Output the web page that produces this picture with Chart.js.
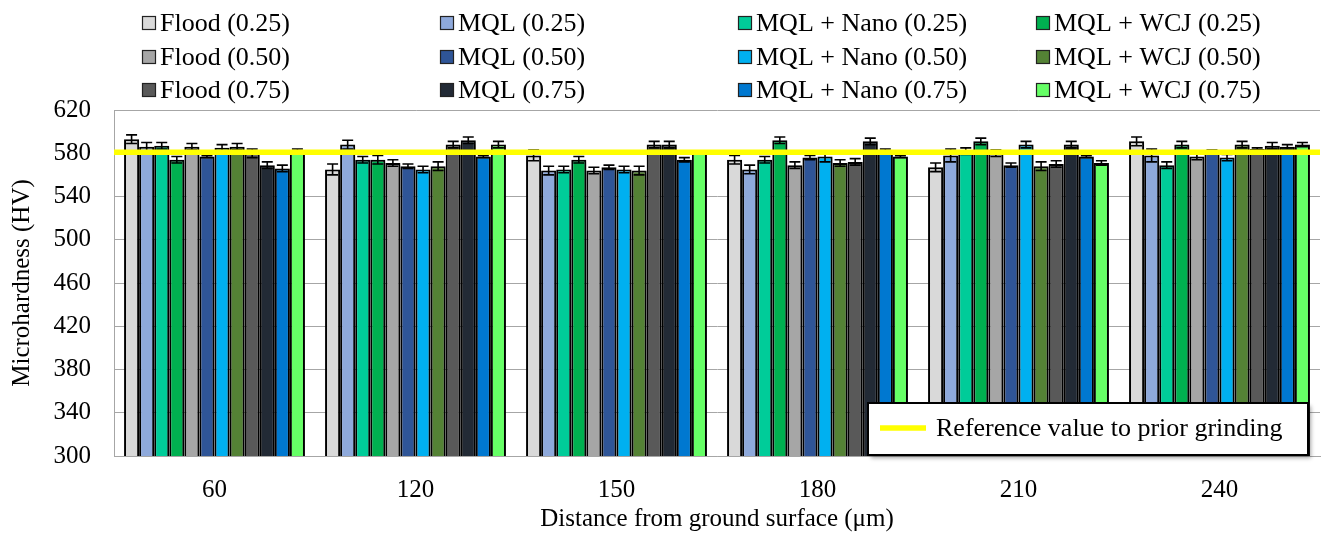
<!DOCTYPE html>
<html><head><meta charset="utf-8">
<script src="https://cdn.jsdelivr.net/npm/chart.js@4.4.1/dist/chart.umd.min.js"></script>
<style>html,body{margin:0;padding:0;background:#fff;}#wrap{width:1322px;height:534px;}</style>
</head><body><div id="wrap"><canvas id="c" width="1322" height="534"></canvas></div>
<script>
// ---- DATA ----
const categories = ['60', '120', '150', '180', '210', '240'];
const seriesNames = ['Flood (0.25)', 'MQL (0.25)', 'MQL + Nano (0.25)', 'MQL + WCJ (0.25)',
                     'Flood (0.50)', 'MQL (0.50)', 'MQL + Nano (0.50)', 'MQL + WCJ (0.50)',
                     'Flood (0.75)', 'MQL (0.75)', 'MQL + Nano (0.75)', 'MQL + WCJ (0.75)'];
const seriesColors = ['#D9D9D9', '#8EA9DB', '#00CC99', '#00B050',
                      '#A6A6A6', '#2F5597', '#00B0F0', '#548235',
                      '#595959', '#222A35', '#0078D0', '#66FF66'];
const flood025 = [593, 565, 578, 574, 567, 591];
const mql025   = [586, 588, 564, 565, 578, 578];
const nano025  = [587, 574, 565, 574, 582, 569];
const wcj025   = [574, 574, 574, 592, 591, 588];
const flood050 = [586, 571, 564, 569, 580, 577];
const mql050   = [577, 568, 567, 576, 569, 582];
const nano050  = [585, 565, 565, 577, 588, 576];
const wcj050   = [586, 568, 564, 571, 568, 588];
const flood075 = [580, 588, 588, 572, 570, 584];
const mql075   = [569, 592, 588, 591, 588, 587];
const nano075  = [566, 577, 574, 583, 577, 586];
const wcj075   = [582, 588, 581, 577, 571, 588];
const errFlood025 = [4, 5, 5, 4, 4, 4];
const errMql025   = [4, 4, 4, 4, 6, 6];
const errNano025  = [3, 3, 3, 3, 3, 3];
const errWcj025   = [3, 4, 3, 3, 3, 3];
const errFlood050 = [3, 3, 3, 3, 3, 3];
const errMql050   = [1, 2, 2, 2, 2, 1];
const errNano050  = [3, 3, 3, 5, 3, 3];
const errWcj050   = [3, 4, 4, 3, 4, 3];
const errFlood075 = [4, 3, 3, 3, 3, 1];
const errMql075   = [3, 3, 3, 3, 3, 3];
const errNano075  = [3, 1, 2, 1, 1, 2];
const errWcj075   = [2, 3, 1, 1, 2, 2];
const referenceValue = 581;
const referenceLabel = 'Reference value to prior grinding';
const yTicks = [300, 340, 380, 420, 460, 500, 540, 580, 620];

const seriesValues = [flood025, mql025, nano025, wcj025, flood050, mql050, nano050, wcj050, flood075, mql075, nano075, wcj075];
const seriesErrors = [errFlood025, errMql025, errNano025, errWcj025, errFlood050, errMql050, errNano050, errWcj050, errFlood075, errMql075, errNano075, errWcj075];

const FAMILY = '"Liberation Serif", "Times New Roman", serif';

const overlay = {
  id: 'overlay',
  beforeDatasetsDraw(chart) {
    const ctx = chart.ctx;
    ctx.save();
    ctx.shadowColor = 'rgba(0,0,0,0.35)';
    ctx.shadowBlur = 4;
    ctx.shadowOffsetX = 3;
    ctx.shadowOffsetY = 2;
  },
  afterDatasetsDraw(chart) {
    const ctx = chart.ctx;
    ctx.restore();
    const ys = chart.scales.y;
    const area = chart.chartArea;
    // error bars
    ctx.save();
    ctx.strokeStyle = '#000';
    ctx.lineWidth = 1.6;
    chart.data.datasets.forEach((ds, i) => {
      const meta = chart.getDatasetMeta(i);
      meta.data.forEach((el, j) => {
        const v = ds.data[j], e = seriesErrors[i][j];
        const yt = ys.getPixelForValue(v + e), yb = ys.getPixelForValue(v - e);
        const x = el.x, hw = 5.5;
        ctx.beginPath();
        ctx.moveTo(x, yt); ctx.lineTo(x, yb);
        ctx.moveTo(x - hw, yt); ctx.lineTo(x + hw, yt);
        ctx.moveTo(x - hw, yb); ctx.lineTo(x + hw, yb);
        ctx.stroke();
      });
    });
    ctx.restore();
    // reference line
    const yr = ys.getPixelForValue(referenceValue);
    ctx.save();
    ctx.strokeStyle = '#FFFF00';
    ctx.lineWidth = 5.5;
    ctx.beginPath();
    ctx.moveTo(area.left, yr); ctx.lineTo(area.right, yr);
    ctx.stroke();
    ctx.restore();
    // reference legend box
    const bx = area.right - 452, by = area.bottom - 53, bw = 440, bh = 52;
    ctx.save();
    ctx.shadowColor = 'rgba(0,0,0,0.35)';
    ctx.shadowBlur = 4; ctx.shadowOffsetX = 3; ctx.shadowOffsetY = 3;
    ctx.fillStyle = '#fff';
    ctx.fillRect(bx, by, bw, bh);
    ctx.restore();
    ctx.save();
    ctx.strokeStyle = '#000'; ctx.lineWidth = 2;
    ctx.strokeRect(bx, by, bw, bh);
    ctx.strokeStyle = '#FFFF00'; ctx.lineWidth = 5.5;
    ctx.beginPath(); ctx.moveTo(bx + 12, by + 25); ctx.lineTo(bx + 58, by + 25); ctx.stroke();
    ctx.fillStyle = '#000';
    ctx.font = '26px ' + FAMILY;
    ctx.textBaseline = 'middle';
    ctx.fillText(referenceLabel, bx + 68, by + 26);
    ctx.restore();
    // top legend grid
    const colX = [142, 440, 738, 1036], rowY = [23, 57, 90];
    ctx.save();
    ctx.font = '26px ' + FAMILY;
    ctx.textBaseline = 'middle';
    seriesNames.forEach((name, i) => {
      const r = Math.floor(i / 4), c = i % 4;
      const x = colX[c], y = rowY[r];
      ctx.fillStyle = seriesColors[i];
      ctx.fillRect(x, y - 7, 14, 14);
      ctx.strokeStyle = '#222'; ctx.lineWidth = 1.2;
      ctx.strokeRect(x + 0.5, y - 6.5, 13, 13);
      ctx.fillStyle = '#000';
      ctx.fillText(name, x + 18, y + 1);
    });
    ctx.restore();
  }
};

new Chart(document.getElementById('c'), {
  type: 'bar',
  data: {
    labels: categories,
    datasets: seriesNames.map((n, i) => ({
      label: n, data: seriesValues[i], backgroundColor: seriesColors[i],
      borderColor: '#000', borderWidth: 2, borderSkipped: false,
      categoryPercentage: 0.9, barPercentage: 1.0
    }))
  },
  options: {
    responsive: false, animation: false,
    layout: { padding: { top: 110, right: 2, left: 0, bottom: 0 } },
    plugins: { legend: { display: false }, tooltip: { enabled: false } },
    scales: {
      x: {
        grid: { display: false, drawTicks: false },
        border: { color: '#A6A6A6', width: 1 },
        ticks: { color: '#000', font: { family: FAMILY, size: 25 }, padding: 19 },
        title: { display: true, text: 'Distance from ground surface (μm)', color: '#000', font: { family: FAMILY, size: 25 }, padding: { top: 0, bottom: 0 } },
        afterFit(s) { s.height = 78; }
      },
      y: {
        min: 300, max: 620,
        afterBuildTicks(s) { s.ticks = yTicks.map(v => ({ value: v })); },
        grid: { color: '#A6A6A6', drawTicks: false },
        border: { color: '#A6A6A6', width: 1 },
        ticks: { color: '#000', font: { family: FAMILY, size: 25 }, padding: 23 },
        title: { display: true, text: 'Microhardness (HV)', color: '#000', font: { family: FAMILY, size: 25 }, padding: { top: 7, bottom: 0 } },
        afterFit(s) { s.width = 114; }
      }
    }
  },
  plugins: [overlay]
});
</script>
</body></html>
